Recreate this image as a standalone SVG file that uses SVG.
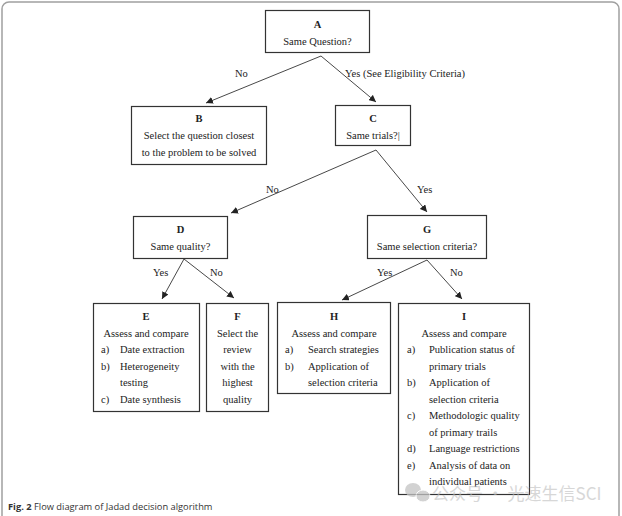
<svg xmlns="http://www.w3.org/2000/svg" width="622" height="516" viewBox="0 0 622 516">
<defs>
<style>
.box{fill:#fff;stroke:#333;stroke-width:1.2}
.t{font-family:"Liberation Serif","Times New Roman",serif;font-size:10.5px;fill:#222}
.c{text-anchor:middle}
.b{font-weight:bold}
.edge{stroke:#333;stroke-width:0.9;fill:none;marker-end:url(#ah)}
.cap{font-family:"Open Sans","Liberation Sans",sans-serif;font-size:9.3px;fill:#333}
.wm{font-family:"Noto Sans CJK SC","Noto Sans",sans-serif;font-size:17px;fill:#bdbdbd;opacity:0.8}
</style>
<marker id="ah" viewBox="0 0 10 10" refX="10" refY="5" markerWidth="7" markerHeight="7" markerUnits="userSpaceOnUse" orient="auto">
<path d="M0,0 L10,5 L0,10 z" fill="#222"/>
</marker>
</defs>
<rect width="622" height="516" fill="#fff"/>
<rect x="2" y="2" width="617" height="540" rx="7" fill="none" stroke="#a0a0a0" stroke-width="1.5"/>

<g id="connectors">
<line class="edge" x1="321" y1="56" x2="206" y2="103"/>
<line class="edge" x1="321" y1="56" x2="376" y2="102"/>
<line class="edge" x1="376" y1="150" x2="231" y2="213"/>
<line class="edge" x1="376" y1="150" x2="427" y2="212"/>
<line class="edge" x1="184" y1="259" x2="162" y2="299"/>
<line class="edge" x1="184" y1="259" x2="234" y2="298"/>
<line class="edge" x1="427" y1="260" x2="342" y2="300"/>
<line class="edge" x1="427" y1="260" x2="462" y2="299"/>
<text class="t" x="235" y="77">No</text>
<text class="t" x="345" y="77">Yes (See Eligibility Criteria)</text>
<text class="t" x="266" y="193">No</text>
<text class="t" x="417" y="193">Yes</text>
<text class="t" x="153" y="276">Yes</text>
<text class="t" x="210" y="276">No</text>
<text class="t" x="377" y="276">Yes</text>
<text class="t" x="450" y="276">No</text>
</g>

<g id="A">
<rect class="box" x="265.5" y="10.5" width="104" height="42"/>
<text class="t c b" x="317.5" y="28">A</text>
<text class="t c" x="317.5" y="45">Same Question?</text>
</g>
<g id="B">
<rect class="box" x="131.5" y="106.5" width="135" height="58"/>
<text class="t c b" x="199" y="122">B</text>
<text class="t c" x="199" y="139">Select the question closest</text>
<text class="t c" x="199" y="156">to the problem to be solved</text>
</g>
<g id="C">
<rect class="box" x="335.5" y="105.5" width="75" height="40"/>
<text class="t c b" x="373" y="122">C</text>
<text class="t c" x="373" y="139">Same trials?|</text>
</g>
<g id="D">
<rect class="box" x="133.5" y="216.5" width="94" height="42"/>
<text class="t c b" x="180.5" y="233">D</text>
<text class="t c" x="180.5" y="250">Same quality?</text>
</g>
<g id="G">
<rect class="box" x="367.5" y="215.5" width="119" height="43"/>
<text class="t c b" x="427" y="233">G</text>
<text class="t c" x="427" y="250">Same selection criteria?</text>
</g>
<g id="E">
<rect class="box" x="93.5" y="303.5" width="106" height="108"/>
<text class="t c b" x="146" y="320">E</text>
<text class="t c" x="146" y="336.5">Assess and compare</text>
<text class="t" x="101" y="353">a)</text><text class="t" x="120" y="353">Date extraction</text>
<text class="t" x="101" y="369.5">b)</text><text class="t" x="120" y="369.5">Heterogeneity</text>
<text class="t" x="120" y="386">testing</text>
<text class="t" x="101" y="402.5">c)</text><text class="t" x="120" y="402.5">Date synthesis</text>
</g>
<g id="F">
<rect class="box" x="206.5" y="303.5" width="62" height="108"/>
<text class="t c b" x="237.5" y="320">F</text>
<text class="t c" x="237.5" y="336.5">Select the</text>
<text class="t c" x="237.5" y="353">review</text>
<text class="t c" x="237.5" y="369.5">with the</text>
<text class="t c" x="237.5" y="386">highest</text>
<text class="t c" x="237.5" y="402.5">quality</text>
</g>
<g id="H">
<rect class="box" x="277.5" y="302.5" width="113" height="91"/>
<text class="t c b" x="334" y="320">H</text>
<text class="t c" x="334" y="336.5">Assess and compare</text>
<text class="t" x="285" y="353">a)</text><text class="t" x="308" y="353">Search strategies</text>
<text class="t" x="285" y="369.5">b)</text><text class="t" x="308" y="369.5">Application of</text>
<text class="t" x="308" y="386">selection criteria</text>
</g>
<g id="I">
<rect class="box" x="398.5" y="303.5" width="131" height="191"/>
<text class="t c b" x="464" y="320">I</text>
<text class="t c" x="464" y="336.5">Assess and compare</text>
<text class="t" x="407" y="353">a)</text><text class="t" x="429" y="353">Publication status of</text>
<text class="t" x="429" y="369.5">primary trials</text>
<text class="t" x="407" y="386">b)</text><text class="t" x="429" y="386">Application of</text>
<text class="t" x="429" y="402.5">selection criteria</text>
<text class="t" x="407" y="419">c)</text><text class="t" x="429" y="419">Methodologic quality</text>
<text class="t" x="429" y="435.5">of primary trails</text>
<text class="t" x="407" y="452">d)</text><text class="t" x="429" y="452">Language restrictions</text>
<text class="t" x="407" y="468.5">e)</text><text class="t" x="429" y="468.5">Analysis of data on</text>
<text class="t" x="429" y="485">individual patients</text>
</g>

<g id="watermark" opacity="0.75">
<ellipse cx="413" cy="490" rx="8" ry="7" fill="#c4c4c4"/>
<ellipse cx="423" cy="496" rx="7" ry="6" fill="#c4c4c4" stroke="#fff" stroke-width="1"/>
<text class="wm" x="432" y="500">公众号 · 光速生信SCI</text>
</g>

<text class="cap" x="8" y="510"><tspan font-weight="bold">Fig. 2</tspan> Flow diagram of Jadad decision algorithm</text>
</svg>
